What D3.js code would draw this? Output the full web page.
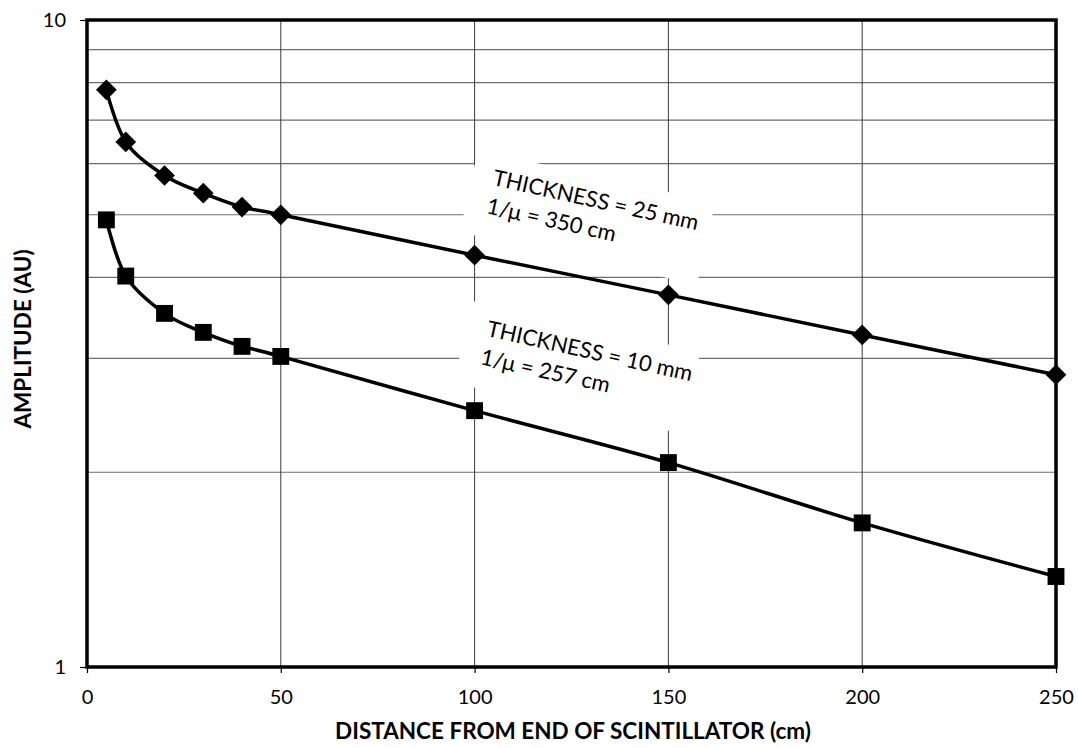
<!DOCTYPE html>
<html>
<head>
<meta charset="utf-8">
<script src="https://cdn.jsdelivr.net/npm/d3@7"></script>
<style>
  body { margin: 0; background: #fff; }
  text { font-family: Lato, "Open Sans", sans-serif; fill: #000; }
</style>
</head>
<body>
<svg id="chart" width="1078" height="748"></svg>
<script>
// distances along the scintillator (cm)
var distances = [5, 10, 20, 30, 40, 50, 100, 150, 200, 250];
// amplitudes
var amp_25mm = [7.8, 6.48, 5.75, 5.40, 5.14, 5.0, 4.33, 3.76, 3.26, 2.83];
var amp_10mm = [4.91, 4.02, 3.52, 3.29, 3.13, 3.02, 2.49, 2.07, 1.67, 1.38];

var x_ticks = [0, 50, 100, 150, 200, 250];
var y_ticks = [1, 10];
var y_grid = [2, 3, 4, 5, 6, 7, 8, 9];

var label_25 = ["THICKNESS = 25 mm", "1/\u03bc = 350 cm"];
var label_10 = ["THICKNESS = 10 mm", "1/\u03bc = 257 cm"];

var svg = d3.select("#chart");

var plot_left = 87, plot_right = 1056, plot_top = 20, plot_bottom = 667;

var x_scale = d3.scaleLinear().domain([0, 250]).range([plot_left, plot_right]);
var y_scale = d3.scaleLog().domain([1, 10]).range([plot_bottom, plot_top]);

// gridlines
var grid = svg.append("g");
grid.selectAll(".hgrid")
    .data(y_grid)
    .enter()
    .append("line")
    .attr("x1", plot_left).attr("x2", plot_right)
    .attr("y1", function (d) { return y_scale(d); })
    .attr("y2", function (d) { return y_scale(d); })
    .attr("stroke", "#6e6e6e")
    .attr("stroke-width", 1.2);

grid.selectAll(".vgrid")
    .data(x_ticks.slice(1, -1))
    .enter()
    .append("line")
    .attr("y1", plot_top).attr("y2", plot_bottom)
    .attr("x1", function (d) { return x_scale(d); })
    .attr("x2", function (d) { return x_scale(d); })
    .attr("stroke", "#3a3a3a")
    .attr("stroke-width", 1);

// annotation boxes (white background cuts the gridlines)
function add_label(lines, tx, ty, box_w, box_h) {
    var g = svg.append("g")
        .attr("transform", "translate(" + tx + "," + ty + ") rotate(12.5)");
    g.append("rect")
        .attr("x", 0).attr("y", 0)
        .attr("width", box_w).attr("height", box_h)
        .attr("fill", "#fff");
    g.selectAll("text")
        .data(lines)
        .enter()
        .append("text")
        .attr("x", 21)
        .attr("y", function (d, i) { return 31 + i * 29; })
        .style("font-size", "22px")
        .text(function (d) { return d; });
}
add_label(label_25, 478, 150, 243, 84);
add_label(label_10, 472, 301, 234, 84);

// axis ticks
var x_axis = d3.axisBottom(x_scale).tickValues(x_ticks).tickSize(6).tickPadding(17).tickFormat(d3.format("d"));
var x_g = svg.append("g").attr("transform", "translate(0," + plot_bottom + ")").call(x_axis);
x_g.select(".domain").remove();
x_g.selectAll("line").attr("stroke", "#000").attr("stroke-width", 1.2);
x_g.selectAll("text").style("font-size", "20px").style("font-family", "Lato, sans-serif");

var y_axis = d3.axisLeft(y_scale).tickValues(y_ticks).tickSize(7).tickPadding(14).tickFormat(d3.format("d"));
var y_g = svg.append("g").attr("transform", "translate(" + plot_left + ",0)").call(y_axis);
y_g.select(".domain").remove();
y_g.selectAll("line").attr("stroke", "#000").attr("stroke-width", 1.2);
y_g.selectAll("text").style("font-size", "20px").style("font-family", "Lato, sans-serif");

// plot frame
svg.append("rect")
    .attr("x", plot_left).attr("y", plot_top)
    .attr("width", plot_right - plot_left).attr("height", plot_bottom - plot_top)
    .attr("fill", "none")
    .attr("stroke", "#000")
    .attr("stroke-width", 3.5);

// smoothed series lines
var line_gen = d3.line()
    .x(function (d) { return x_scale(d[0]); })
    .y(function (d) { return y_scale(d[1]); })
    .curve(d3.curveCardinal.tension(0));

var series = [
    { values: amp_25mm, size: 215, angle: 45 },   // diamonds
    { values: amp_10mm, size: 285, angle: 0 }     // squares
];

series.forEach(function (s) {
    var pts = d3.zip(distances, s.values);
    svg.append("path")
        .attr("d", line_gen(pts))
        .attr("fill", "none")
        .attr("stroke", "#000")
        .attr("stroke-width", 3.5);
    svg.selectAll(null)
        .data(pts)
        .enter()
        .append("path")
        .attr("transform", function (d) {
            return "translate(" + x_scale(d[0]) + "," + y_scale(d[1]) + ") rotate(" + s.angle + ")";
        })
        .attr("d", d3.symbol().type(d3.symbolSquare).size(s.size))
        .attr("fill", "#000");
});

// axis titles
svg.append("text")
    .attr("x", 573)
    .attr("y", 739)
    .attr("text-anchor", "middle")
    .style("font-size", "22.5px")
    .style("font-weight", "bold")
    .text("DISTANCE FROM END OF SCINTILLATOR (cm)");

svg.append("text")
    .attr("transform", "translate(31,339) rotate(-90)")
    .attr("text-anchor", "middle")
    .style("font-size", "22.5px")
    .style("font-weight", "bold")
    .text("AMPLITUDE (AU)");
</script>
</body>
</html>
